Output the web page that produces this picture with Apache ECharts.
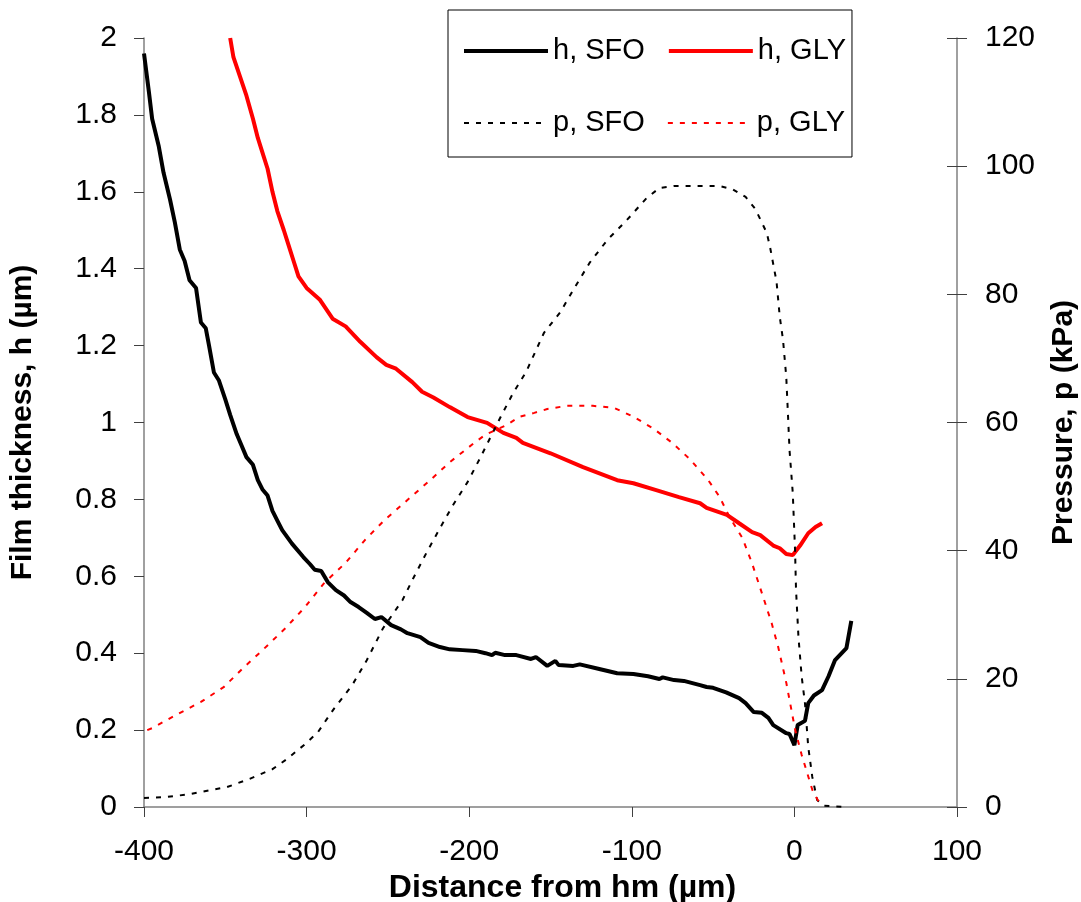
<!DOCTYPE html>
<html>
<head>
<meta charset="utf-8">
<script src="https://cdn.jsdelivr.net/npm/echarts@6/dist/echarts.min.js"></script>
<style>
html,body{margin:0;padding:0;background:#fff;overflow:hidden;}
#chart{width:1081px;height:902px;}
</style>
</head>
<body>
<div id="chart"></div>
<script>
// ---- data ----
const seriesNames = ['h, SFO', 'h, GLY', 'p, SFO', 'p, GLY'];
const xTicks = { min: -400, max: 100, interval: 100 };
const hTicks = { min: 0, max: 2, interval: 0.2 };
const pTicks = { min: 0, max: 120, interval: 20 };

// film thickness, sunflower oil (um)
const hSFO = [[-400,1.96],[-397,1.86],[-395,1.79],[-391,1.72],[-388,1.65],[-384,1.58],[-381,1.52],[-378,1.45],[-375,1.42],[-372,1.37],[-368,1.35],[-365,1.26],[-362,1.245],[-360,1.2],[-357,1.13],[-354,1.11],[-350,1.06],[-347,1.02],[-343,0.97],[-340,0.94],[-337,0.91],[-333,0.89],[-330,0.85],[-327,0.825],[-324,0.81],[-321,0.77],[-318,0.745],[-315,0.72],[-309,0.685],[-302,0.65],[-298,0.632],[-295,0.617],[-291,0.614],[-287,0.585],[-282,0.564],[-277,0.55],[-273,0.533],[-268,0.52],[-263,0.505],[-258,0.489],[-254,0.494],[-248,0.473],[-242,0.462],[-238,0.452],[-230,0.442],[-225,0.427],[-218,0.416],[-212,0.41],[-204,0.408],[-196,0.406],[-190,0.4],[-186,0.395],[-184,0.401],[-178,0.395],[-171,0.395],[-162,0.385],[-159,0.39],[-152,0.367],[-147,0.38],[-145,0.369],[-136,0.367],[-132,0.371],[-120,0.359],[-109,0.348],[-99,0.346],[-90,0.34],[-83,0.333],[-81,0.337],[-74,0.33],[-68,0.328],[-58,0.317],[-54,0.312],[-50,0.31],[-42,0.298],[-34,0.283],[-30,0.27],[-25,0.247],[-20,0.245],[-16,0.232],[-13,0.213],[-5,0.192],[-3,0.19],[0,0.161],[2,0.213],[6.5,0.224],[8.5,0.27],[12,0.29],[17,0.304],[21,0.34],[25,0.382],[32,0.413],[35,0.484]];

// film thickness, glycerol (um)
const hGLY = [[-347,2.0],[-345,1.95],[-341,1.90],[-337,1.85],[-333,1.79],[-330,1.74],[-327,1.70],[-324,1.66],[-321,1.60],[-318,1.55],[-314,1.50],[-311,1.46],[-308,1.42],[-305,1.38],[-300,1.35],[-292,1.32],[-284,1.27],[-276,1.25],[-267,1.21],[-257,1.17],[-251,1.15],[-245,1.14],[-235,1.105],[-229,1.08],[-222,1.065],[-212,1.04],[-201,1.014],[-189,0.999],[-179,0.973],[-171,0.96],[-167,0.947],[-150,0.92],[-130,0.884],[-109,0.85],[-99,0.842],[-85,0.824],[-71,0.806],[-58,0.79],[-54,0.778],[-41.5,0.76],[-34,0.738],[-26,0.715],[-21,0.707],[-13,0.68],[-9,0.673],[-5,0.658],[-1,0.655],[3.5,0.68],[8.5,0.712],[13,0.728],[17,0.738]];

// pressure, sunflower oil (kPa)
const pSFO = [[-400,1.4],[-386,1.56],[-372,2.0],[-360,2.6],[-349,3.1],[-335,4.4],[-321,5.9],[-312,7.5],[-300,10],[-293,11.7],[-283,15.4],[-272,19],[-263,22.9],[-253,27.9],[-241,32.3],[-234,35.9],[-226,39.8],[-218,43.5],[-210,47.1],[-201,50.7],[-193,54.6],[-181,60.7],[-173,64.6],[-165,67.9],[-154,74],[-144,77.2],[-136,80.7],[-126,84.9],[-115,88.5],[-103,91.6],[-91,95],[-83,96.6],[-74,96.9],[-46,96.9],[-38,96.4],[-30,95.2],[-24,93.3],[-17,89.6],[-15,87.4],[-11,82],[-9,76.5],[-7,72.9],[-5,67.1],[-4,61.5],[-3,55.7],[-1,49],[0.4,40.1],[1,33.9],[2.5,26.5],[4.5,20.3],[6.5,16.2],[8.5,9.4],[11,4.7],[14,1.1],[18,0.2],[33,0]];

// pressure, glycerol (kPa)
const pGLY = [[-398,12],[-395,12.3],[-380,14.4],[-365,16.4],[-351,18.7],[-339,21.7],[-327,24.5],[-313,27.9],[-301,31.2],[-289,35],[-276,38.1],[-264,41.7],[-252,44.8],[-238,47.9],[-224,51],[-212,53.8],[-197,56.8],[-190,58.1],[-177,59.6],[-169,60.9],[-160,61.5],[-152,62.1],[-140,62.6],[-124,62.6],[-111,62.3],[-99,60.9],[-87,59.1],[-75,56.8],[-64,54.2],[-53,51],[-46,48.4],[-40,45.3],[-32,42],[-26,38],[-19,32.6],[-14,28.7],[-10,25],[-5,19.4],[0.5,12],[4.5,8.1],[11,2.7],[16,0.3]];

// ---- chart ----
const FONT = '"Liberation Sans", Arial, Helvetica, sans-serif';
const axisGrey = '#808080';
const tickCol = '#404040';
const dashPattern = [5, 7];

const chart = echarts.init(document.getElementById('chart'), null, { renderer: 'canvas', width: 1081, height: 902 });

const option = {
  backgroundColor: '#ffffff',
  animation: false,
  textStyle: { fontFamily: FONT },
  grid: { left: 144, right: 124, top: 38, bottom: 95, containLabel: false, outerBoundsMode: 'none' },
  legend: {
    data: [
      { name: seriesNames[0], lineStyle: { color: '#000', width: 4 } },
      { name: seriesNames[1], lineStyle: { color: '#ff0000', width: 4 } },
      { name: seriesNames[2], lineStyle: { color: '#000', width: 2, type: dashPattern } },
      { name: seriesNames[3], lineStyle: { color: '#ff0000', width: 2, type: dashPattern } }
    ],
    left: 448,
    top: 10,
    width: 396,
    orient: 'horizontal',
    itemWidth: 84,
    itemHeight: 14,
    itemGap: 22,
    padding: [16, 6, 9, 14],
    borderColor: '#000',
    borderWidth: 1,
    itemStyle: { opacity: 0 },
    textStyle: { fontFamily: FONT, fontSize: 29, color: '#000', lineHeight: 50 },
    selectedMode: false
  },
  xAxis: {
    type: 'value',
    min: xTicks.min, max: xTicks.max, interval: xTicks.interval,
    name: 'Distance from hm (µm)',
    nameLocation: 'middle',
    nameGap: 51,
    nameTextStyle: { fontFamily: FONT, fontSize: 32, fontWeight: 'bold', color: '#000', padding: [0, 0, 0, 24] },
    axisLine: { show: true, onZero: false, lineStyle: { color: axisGrey, width: 1.5 } },
    axisTick: { show: true, inside: false, length: 10, lineStyle: { color: tickCol, width: 1 } },
    axisLabel: { fontFamily: FONT, fontSize: 30, color: '#000', margin: 30 },
    splitLine: { show: false }
  },
  yAxis: [
    {
      type: 'value', position: 'left',
      min: hTicks.min, max: hTicks.max, interval: hTicks.interval,
      name: 'Film thickness, h (µm)',
      nameLocation: 'middle',
      nameGap: 106,
      nameTextStyle: { fontFamily: FONT, fontSize: 30, fontWeight: 'bold', color: '#000' },
      axisLine: { show: true, onZero: false, lineStyle: { color: axisGrey, width: 1.5 } },
      axisTick: { show: true, inside: false, length: 10, lineStyle: { color: tickCol, width: 1 } },
      axisLabel: { fontFamily: FONT, fontSize: 30, color: '#000', margin: 27 },
      splitLine: { show: false }
    },
    {
      type: 'value', position: 'right',
      min: pTicks.min, max: pTicks.max, interval: pTicks.interval,
      name: 'Pressure, p (kPa)',
      nameLocation: 'middle',
      nameGap: 92,
      nameTextStyle: { fontFamily: FONT, fontSize: 30, fontWeight: 'bold', color: '#000' },
      axisLine: { show: true, onZero: false, lineStyle: { color: axisGrey, width: 1.5 } },
      axisTick: { show: true, inside: false, length: 10, lineStyle: { color: tickCol, width: 1 } },
      axisLabel: { fontFamily: FONT, fontSize: 30, color: '#000', margin: 28 },
      splitLine: { show: false }
    },
    {
      type: 'value', position: 'right',
      min: pTicks.min, max: pTicks.max, interval: pTicks.interval,
      axisLine: { show: false, onZero: false },
      axisTick: { show: true, inside: true, length: 10, lineStyle: { color: tickCol, width: 1 } },
      axisLabel: { show: false },
      splitLine: { show: false }
    }
  ],
  series: [
    {
      name: seriesNames[0], type: 'line', yAxisIndex: 0, data: hSFO,
      symbol: 'none', smooth: false, z: 2,
      lineStyle: { color: '#000', width: 4 }, itemStyle: { color: '#000' }
    },
    {
      name: seriesNames[1], type: 'line', yAxisIndex: 0, data: hGLY,
      symbol: 'none', smooth: false, z: 2,
      lineStyle: { color: '#ff0000', width: 4 }, itemStyle: { color: '#ff0000' }
    },
    {
      name: seriesNames[2], type: 'line', yAxisIndex: 1, data: pSFO,
      symbol: 'none', smooth: false, z: 3,
      lineStyle: { color: '#000', width: 2, type: dashPattern }, itemStyle: { color: '#000' }
    },
    {
      name: seriesNames[3], type: 'line', yAxisIndex: 1, data: pGLY,
      symbol: 'none', smooth: false, z: 3,
      lineStyle: { color: '#ff0000', width: 2, type: dashPattern }, itemStyle: { color: '#ff0000' }
    }
  ]
};
chart.setOption(option);
</script>
</body>
</html>
